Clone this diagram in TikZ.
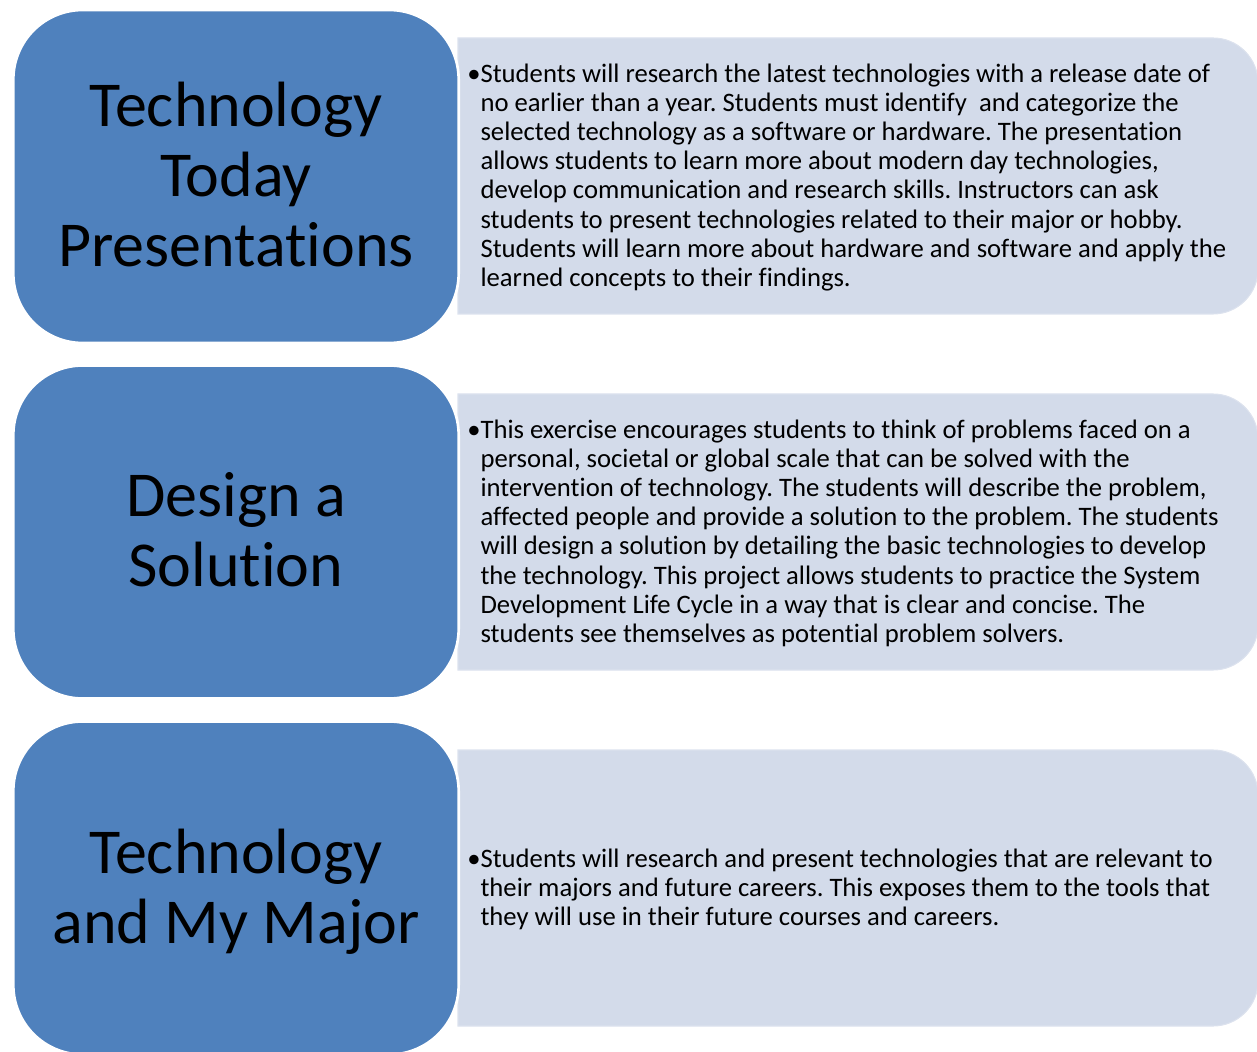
\documentclass[tikz,border=0pt]{standalone}
\usepackage{fontspec}
\setmainfont[Ligatures=NoCommon]{Carlito}
\frenchspacing

\definecolor{topicblue}{HTML}{4F81BD}
\definecolor{panelgrey}{HTML}{D3DBEA}
\definecolor{panelrim}{HTML}{DCE2EE}

% bullet followed by a block of hand-broken lines
\newcommand{\bulletlines}[1]{\textbullet\begin{tabular}[t]{@{}l@{}}#1\end{tabular}}
% centred title lines, set a little low in their box
\newcommand{\topiclines}[1]{\raisebox{-4.5pt}[\height][\depth]{\begin{tabular}{@{}c@{}}#1\end{tabular}}}

\begin{document}
\begin{tikzpicture}[x=0.75pt,y=0.75pt,
    topic/.style={draw=white, line width=2pt, fill=topicblue, rounded corners=52pt,
        minimum width=334pt, minimum height=249.75pt, align=center,
        font=\fontsize{48}{52.5}\selectfont},
    panel/.style={fill=panelgrey, draw=panelrim, line width=0.8pt},
    desc/.style={anchor=west, inner sep=0pt, font=\fontsize{20}{21.9}\selectfont}]
    \useasboundingbox (0,0) rectangle (1257,1051);

    % light panels, square on the left, rounded on the right
    \draw[panel] (458,1013) -- (1213,1013) arc[start angle=90, end angle=0, radius=45]
        -- (1258,782) arc[start angle=0, end angle=-90, radius=45] -- (458,737) -- cycle;
    \draw[panel] (458,657) -- (1213,657) arc[start angle=90, end angle=0, radius=45]
        -- (1258,426) arc[start angle=0, end angle=-90, radius=45] -- (458,381) -- cycle;
    \draw[panel] (458,301) -- (1213,301) arc[start angle=90, end angle=0, radius=45]
        -- (1258,70) arc[start angle=0, end angle=-90, radius=45] -- (458,25) -- cycle;

    % topic boxes
    \node[topic] (today) at (236,874.5) {\topiclines{Technology\\Today\\Presentations}};
    \node[topic] (design) at (236,519) {\topiclines{Design a\\Solution}};
    \node[topic] (major) at (236,163) {\topiclines{Technology\\and My Major}};

    % descriptions
    \node[desc] (todaytext) at (467,872.5) {\bulletlines{%
        Students will research the latest technologies with a release date of\\
        no earlier than a year. Students must identify~ and categorize the\\
        selected technology as a software or hardware. The presentation\\
        allows students to learn more about modern day technologies,\\
        develop communication and research skills. Instructors can ask\\
        students to present technologies related to their major or hobby.\\
        Students will learn more about hardware and software and apply the\\
        learned concepts to their findings.}};
    \node[desc] (designtext) at (467,516.5) {\bulletlines{%
        This exercise encourages students to think of problems faced on a\\
        personal, societal or global scale that can be solved with the\\
        intervention of technology. The students will describe the problem,\\
        affected people and provide a solution to the problem. The students\\
        will design a solution by detailing the basic technologies to develop\\
        the technology. This project allows students to practice the System\\
        Development Life Cycle in a way that is clear and concise. The\\
        students see themselves as potential problem solvers.}};
    \node[desc] (majortext) at (467,160.5) {\bulletlines{%
        Students will research and present technologies that are relevant to\\
        their majors and future careers. This exposes them to the tools that\\
        they will use in their future courses and careers.}};
\end{tikzpicture}
\end{document}
